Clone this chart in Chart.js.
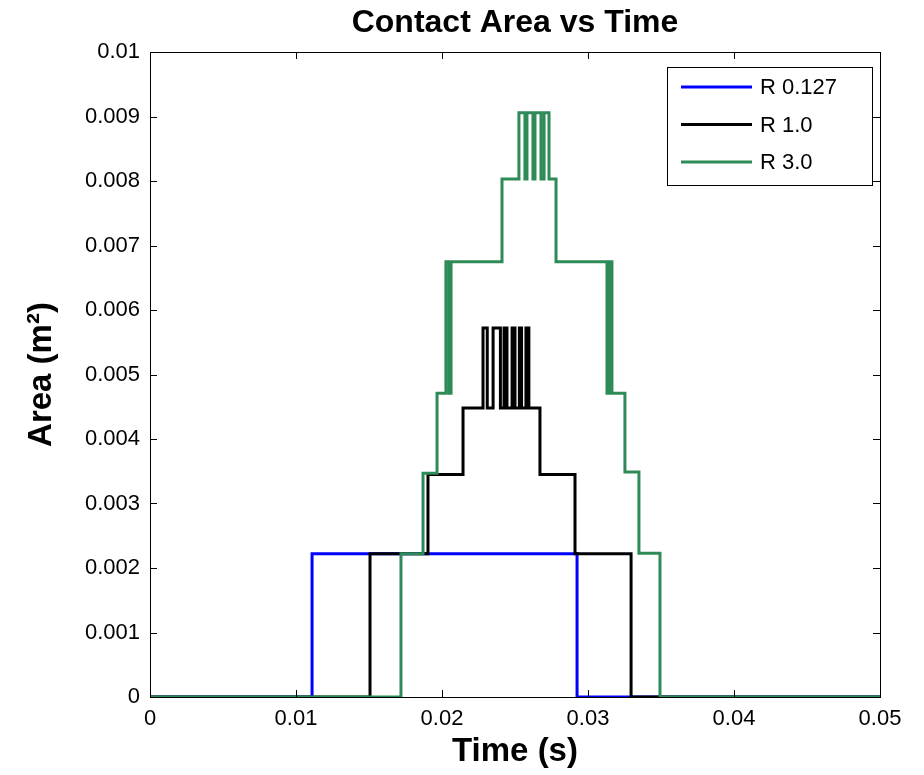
<!DOCTYPE html>
<html>
<head>
<meta charset="utf-8">
<script src="https://cdn.jsdelivr.net/npm/chart.js@4"></script>
<style>
  html, body { margin: 0; padding: 0; background: #fff; }
  #wrap { width: 924px; height: 775px; }
</style>
</head>
<body>
<div id="wrap"><canvas id="areaChart"></canvas></div>
<script>
// step series: value holds from each time until the next one
const blueTime = [0, 0.0111, 0.02925, 0.05];
const blueArea = [0, 0.00222, 0, 0];

const blackTime = [0, 0.01507, 0.01904, 0.02144,
    0.02281, 0.02310, 0.02350, 0.02400, 0.02425, 0.02445,
    0.02480, 0.02500, 0.02530, 0.02545, 0.02575, 0.02595,
    0.02671, 0.02911, 0.03295, 0.05];
const blackArea = [0, 0.00222, 0.00345, 0.00448,
    0.00572, 0.00448, 0.00572, 0.00448, 0.00572, 0.00448,
    0.00572, 0.00448, 0.00572, 0.00448, 0.00572, 0.00448,
    0.00345, 0.00222, 0, 0];

const greenTime = [0, 0.01719, 0.0187, 0.01966, 0.02027, 0.02048, 0.02062,
    0.02411, 0.02527, 0.02568, 0.02582, 0.02623, 0.02637, 0.02678,
    0.02699, 0.02733, 0.02781, 0.0313, 0.03147, 0.03164,
    0.03253, 0.03349, 0.03493, 0.05];
const greenArea = [0, 0.00222, 0.00347, 0.00471, 0.00675, 0.00471, 0.00675,
    0.00803, 0.00906, 0.00803, 0.00906, 0.00803, 0.00906, 0.00803,
    0.00906, 0.00803, 0.00675, 0.00471, 0.00675, 0.00471,
    0.00349, 0.00223, 0, 0];

const seriesNames = ["R 0.127", "R 1.0", "R 3.0"];
const seriesColors = ["#0000ff", "#000000", "#2e8b57"];

const xTicks = [0, 0.01, 0.02, 0.03, 0.04, 0.05];
const xTickLabels = ["0", "0.01", "0.02", "0.03", "0.04", "0.05"];
const yTicks = [0, 0.001, 0.002, 0.003, 0.004, 0.005, 0.006, 0.007, 0.008, 0.009, 0.01];
const yTickLabels = ["0", "0.001", "0.002", "0.003", "0.004", "0.005", "0.006", "0.007", "0.008", "0.009", "0.01"];

const FONT = "'Liberation Sans', Arial, sans-serif";

function toPoints(ts, vs) {
    return ts.map((t, i) => ({ x: t, y: vs[i] }));
}

// box around the axes, inward ticks, legend box in the upper right
const matlabFrame = {
    id: "matlabFrame",
    afterDraw(chart) {
        const { ctx, chartArea: a, scales } = chart;
        ctx.save();
        ctx.strokeStyle = "#000";
        ctx.lineWidth = 1;
        ctx.strokeRect(a.left + 0.5, a.top + 0.5, a.right - a.left, a.bottom - a.top);
        const tl = 7;
        ctx.beginPath();
        xTicks.forEach(v => {
            const px = Math.round(scales.x.getPixelForValue(v)) + 0.5;
            ctx.moveTo(px, a.bottom); ctx.lineTo(px, a.bottom - tl);
            ctx.moveTo(px, a.top); ctx.lineTo(px, a.top + tl);
        });
        yTicks.forEach(v => {
            const py = Math.round(scales.y.getPixelForValue(v)) + 0.5;
            ctx.moveTo(a.left, py); ctx.lineTo(a.left + tl, py);
            ctx.moveTo(a.right, py); ctx.lineTo(a.right - tl, py);
        });
        ctx.stroke();

        // legend
        const bx = 667, by = 67, bw = 205, bh = 118;
        ctx.fillStyle = "#fff";
        ctx.fillRect(bx, by, bw, bh);
        ctx.strokeRect(bx + 0.5, by + 0.5, bw, bh);
        ctx.font = "22px " + FONT;
        ctx.textBaseline = "middle";
        ctx.textAlign = "left";
        chart.data.datasets.forEach((ds, i) => {
            const ly = by + 20 + i * 37.5;
            ctx.strokeStyle = ds.borderColor;
            ctx.lineWidth = 3;
            ctx.beginPath();
            ctx.moveTo(681, ly); ctx.lineTo(752, ly);
            ctx.stroke();
            ctx.fillStyle = "#000";
            ctx.fillText(ds.label, 760, ly + 1);
        });
        ctx.restore();
    }
};

const ctx = document.getElementById("areaChart").getContext("2d");
new Chart(ctx, {
    type: "line",
    data: {
        datasets: [
            { label: seriesNames[0], data: toPoints(blueTime, blueArea), borderColor: seriesColors[0], order: 2 },
            { label: seriesNames[1], data: toPoints(blackTime, blackArea), borderColor: seriesColors[1], order: 1 },
            { label: seriesNames[2], data: toPoints(greenTime, greenArea), borderColor: seriesColors[2], order: 0 }
        ]
    },
    options: {
        responsive: true,
        maintainAspectRatio: false,
        animation: false,
        layout: { padding: { left: 0, right: 44, top: 0, bottom: 0 } },
        elements: {
            line: { borderWidth: 3, stepped: "before", fill: false, tension: 0 },
            point: { radius: 0 }
        },
        plugins: {
            legend: { display: false },
            tooltip: { enabled: false },
            title: {
                display: true,
                fullSize: false,
                text: "Contact Area vs Time",
                color: "#000",
                font: { family: FONT, size: 32, weight: "bold", lineHeight: 1.2 },
                padding: { top: 4, bottom: 9.6 }
            }
        },
        scales: {
            x: {
                type: "linear",
                min: 0, max: 0.05,
                afterBuildTicks: s => { s.ticks = xTicks.map(v => ({ value: v })); },
                afterFit: s => { s.height = 78; },
                grid: { display: false, drawTicks: false },
                border: { display: true, color: "#000", width: 1 },
                ticks: {
                    color: "#000", padding: 9,
                    font: { family: FONT, size: 22 },
                    callback: (v, i) => xTickLabels[i]
                },
                title: {
                    display: true, text: "Time (s)", color: "#000",
                    font: { family: FONT, size: 33, weight: "bold", lineHeight: 1.2 },
                    padding: { top: 0, bottom: 3 }
                }
            },
            y: {
                type: "linear",
                min: 0, max: 0.01,
                afterBuildTicks: s => { s.ticks = yTicks.map(v => ({ value: v })); },
                afterFit: s => { s.width = 150; },
                grid: { display: false, drawTicks: false },
                border: { display: true, color: "#000", width: 1 },
                ticks: {
                    color: "#000", padding: 10,
                    font: { family: FONT, size: 22 },
                    callback: (v, i) => yTickLabels[i]
                },
                title: {
                    display: true, text: "Area (m\u00b2)", color: "#000",
                    font: { family: FONT, size: 33, weight: "bold", lineHeight: 1.2 },
                    padding: { top: 22, bottom: 0 }
                }
            }
        }
    },
    plugins: [matlabFrame]
});
</script>
</body>
</html>
